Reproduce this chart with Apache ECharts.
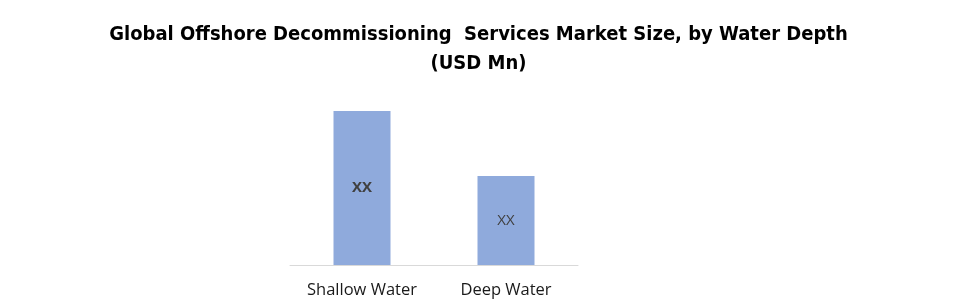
<!DOCTYPE html>
<html>
<head>
<meta charset="utf-8">
<script src="https://cdn.jsdelivr.net/npm/echarts@6/dist/echarts.min.js"></script>
<style>
  html, body { margin: 0; padding: 0; background: #fff; }
  #main { width: 957px; height: 307px; }
</style>
</head>
<body>
<div id="main"></div>
<script>
// chart data
var categories = ['Shallow Water', 'Deep Water'];
var values = [154, 89];
var valueLabels = ['XX', 'XX'];
var labelWeights = ['bold', 'normal'];

var chart = echarts.init(document.getElementById('main'));

var option = {
  animation: false,
  title: {
    text: 'Global Offshore Decommissioning  Services Market Size, by Water Depth\n(USD Mn)',
    left: 'center',
    top: 15,
    textStyle: {
      fontFamily: 'DejaVu Sans Condensed',
      fontSize: 20,
      fontWeight: 'bold',
      color: '#000',
      lineHeight: 29
    }
  },
  grid: { left: 290, right: 379, top: 111, bottom: 42 },
  xAxis: {
    type: 'category',
    data: categories,
    axisTick: { show: false },
    axisLine: { lineStyle: { color: '#d9d9d9', width: 1 } },
    axisLabel: {
      margin: 17,
      fontFamily: 'Open Sans',
      fontSize: 16.5,
      color: '#1a1a1a'
    }
  },
  yAxis: {
    type: 'value',
    min: 0,
    max: 154,
    show: false,
    splitLine: { show: false }
  },
  series: [{
    type: 'bar',
    barWidth: 57,
    data: values.map(function (v, i) {
      return {
        value: v,
        label: {
          show: true,
          position: 'inside',
          formatter: valueLabels[i],
          fontFamily: 'Open Sans',
          fontSize: 15,
          fontWeight: labelWeights[i],
          color: '#404040'
        }
      };
    }),
    itemStyle: { color: '#8faadc' }
  }]
};

chart.setOption(option);
</script>
</body>
</html>
